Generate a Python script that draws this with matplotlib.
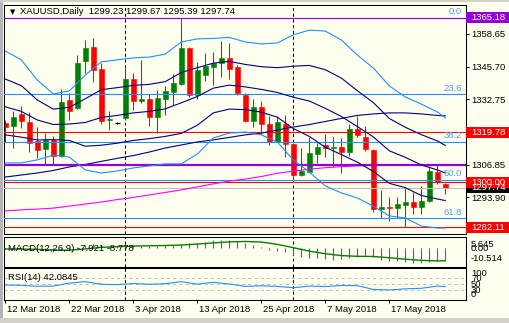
import matplotlib
matplotlib.use("Agg")
import matplotlib.pyplot as plt
import matplotlib.transforms as mtransforms
from matplotlib.patches import Rectangle
import numpy as np

plt.rcParams['font.family'] = ['Liberation Sans', 'DejaVu Sans']
FS = 6.8
BG = '#FFFFF0'

# ---------------- data ----------------
symbol_title = "XAUUSD,Daily  1299.23 1299.67 1295.39 1297.74"
date_labels = ["12 Mar 2018", "22 Mar 2018", "3 Apr 2018", "13 Apr 2018",
               "25 Apr 2018", "7 May 2018", "17 May 2018"]
date_idx = [0, 8, 16, 24, 32, 40, 48]
separator_idx = [15, 36]

opens = [1323.5, 1322.2, 1326.97, 1323.8, 1316.4, 1313.0, 1316.7, 1310.3, 1332.5, 1329.5,
         1348.1, 1353.6, 1344.8, 1324.45, 1323.3, 1325.5, 1340.8, 1332.25, 1332.9, 1325.9,
         1333.0, 1335.7, 1338.85, 1353.0, 1334.5, 1342.4, 1345.7, 1347.3, 1349.3, 1345.7,
         1334.5, 1324.3, 1329.9, 1322.9, 1316.0, 1323.0, 1315.1, 1302.9, 1304.1, 1311.1,
         1314.7, 1313.4, 1314.0, 1312.05, 1321.0, 1317.8, 1312.7, 1289.35, 1290.25, 1289.9,
         1290.9, 1292.1, 1290.25, 1292.5, 1304.1, 1299.23]
highs = [1324.6, 1328.3, 1330.1, 1327.9, 1321.7, 1319.3, 1318.25, 1336.7, 1335.15, 1350.3,
         1356.3, 1357.2, 1347.3, 1328.15, 1323.6, 1345.05, 1343.1, 1348.35, 1334.75, 1336.5,
         1338.05, 1342.8, 1365.18, 1353.6, 1347.7, 1351.0, 1351.65, 1355.9, 1355.2, 1346.4,
         1335.15, 1332.9, 1332.1, 1326.2, 1326.2, 1326.6, 1315.6, 1313.6, 1318.0, 1315.35,
         1319.05, 1318.0, 1317.3, 1323.0, 1326.2, 1322.2, 1313.0, 1296.9, 1293.95, 1293.95,
         1298.2, 1296.2, 1298.45, 1306.4, 1307.0, 1299.67]
lows = [1316.0, 1313.4, 1321.3, 1312.05, 1309.4, 1306.8, 1306.8, 1310.0, 1324.6, 1329.0,
        1343.3, 1339.8, 1323.0, 1320.6, 1323.0, 1324.6, 1328.55, 1331.2, 1322.35, 1319.6,
        1326.6, 1330.5, 1338.5, 1333.6, 1332.8, 1340.2, 1338.45, 1341.75, 1340.7, 1334.5,
        1323.9, 1321.7, 1319.05, 1314.7, 1315.7, 1309.8, 1300.8, 1302.6, 1303.9, 1307.7,
        1309.8, 1305.85, 1303.7, 1310.5, 1317.7, 1312.4, 1288.3, 1285.65, 1284.7, 1285.65,
        1282.11, 1287.4, 1287.4, 1292.0, 1299.3, 1295.39]
closes = [1321.9, 1325.65, 1324.3, 1315.6, 1312.7, 1316.7, 1310.5, 1331.7, 1328.3, 1347.0,
          1353.0, 1344.4, 1324.3, 1325.0, 1323.3, 1340.8, 1332.25, 1333.0, 1325.9, 1333.2,
          1336.1, 1339.4, 1353.0, 1334.5, 1344.4, 1346.0, 1347.3, 1349.15, 1344.8, 1335.4,
          1324.3, 1329.9, 1322.9, 1316.0, 1323.7, 1314.95, 1302.9, 1304.4, 1311.4, 1314.0,
          1313.6, 1314.0, 1312.05, 1321.0, 1318.65, 1313.0, 1289.35, 1290.25, 1289.6, 1291.3,
          1292.1, 1290.25, 1292.5, 1304.4, 1300.15, 1297.74]

# indicator lines, sampled every second bar plus the last bar
line_idx = list(range(0, 55, 2)) + [55]
bb_upper = [1351.9, 1348.4, 1340.4, 1334.9, 1336.1, 1342.4, 1347.6, 1348.4, 1349.2, 1349.5,
            1350.7, 1355.5, 1356.7, 1356.9, 1357.3, 1355.5, 1354.7, 1355.1, 1358.3, 1360.2,
            1359.8, 1356.3, 1350.3, 1345.2, 1338.1, 1333.7, 1330.9, 1327.8, 1325.4]
bb_lower = [1307.6, 1307.6, 1308.8, 1310.7, 1309.9, 1304.8, 1303.6, 1304.4, 1305.6, 1306.4,
            1307.2, 1307.2, 1311.1, 1317.5, 1319.4, 1319.8, 1318.7, 1315.9, 1308.8, 1304.0,
            1298.5, 1295.7, 1293.7, 1290.5, 1286.6, 1285.8, 1282.6, 1281.8, 1281.8]
bb_mid = [1329.8, 1328.0, 1324.6, 1322.8, 1323.0, 1323.6, 1325.6, 1326.4, 1327.4, 1328.0,
          1329.0, 1331.4, 1333.9, 1337.2, 1338.4, 1337.7, 1336.7, 1335.5, 1333.6, 1332.1,
          1329.2, 1326.0, 1322.0, 1317.9, 1312.4, 1309.8, 1306.8, 1304.8, 1303.6]
inner_upper = [1340.8, 1338.2, 1332.5, 1328.9, 1329.6, 1333.0, 1336.6, 1337.4, 1338.3, 1338.7,
               1339.8, 1343.4, 1345.3, 1347.1, 1347.8, 1346.6, 1345.7, 1345.3, 1345.9, 1346.2,
               1344.5, 1341.2, 1336.2, 1331.5, 1325.2, 1321.7, 1318.8, 1316.3, 1314.5]
inner_lower = [1318.7, 1317.8, 1316.7, 1316.8, 1316.5, 1314.2, 1314.6, 1315.4, 1316.5, 1317.2,
               1318.1, 1319.3, 1322.5, 1327.4, 1328.9, 1328.7, 1327.7, 1325.7, 1321.2, 1318.1,
               1313.8, 1310.9, 1307.9, 1304.2, 1299.5, 1297.8, 1294.7, 1293.3, 1292.7]
sma100 = [1302.0, 1302.8, 1303.6, 1304.6, 1306.0, 1307.0, 1308.2, 1309.4, 1310.5, 1311.9,
          1313.5, 1314.7, 1315.9, 1316.7, 1317.7, 1318.7, 1319.4, 1320.6, 1321.8, 1322.8,
          1324.0, 1325.2, 1326.4, 1327.0, 1327.4, 1327.4, 1327.0, 1326.4, 1326.2]
sma200 = [1288.6, 1289.0, 1289.3, 1289.7, 1290.5, 1291.3, 1292.1, 1293.1, 1293.9, 1294.9,
          1295.9, 1296.9, 1298.1, 1299.3, 1300.4, 1301.2, 1302.2, 1303.5, 1304.3, 1305.1,
          1305.7, 1306.1, 1306.4, 1306.6, 1306.8, 1306.9, 1306.9, 1306.9, 1306.9]

macd_main = [-0.9, -0.7, -0.6, -1.1, -1.5, -2.0, -2.4, -1.6, -1.1, 0.7,
             2.3, 2.8, 2.0, 1.5, 1.2, 2.0, 1.9, 1.7, 1.7, 1.6,
             1.9, 2.3, 2.6, 3.8, 3.8, 4.5, 5.3, 5.5, 5.645, 4.7,
             3.5, 2.2, 0.5, -1.3, -2.0, -2.9, -4.5, -5.9, -6.6, -7.1,
             -7.7, -8.0, -7.7, -7.1, -6.2, -5.4, -6.2, -8.1, -8.8, -9.0,
             -9.9, -10.514, -10.4, -9.5, -8.9, -7.921]
macd_signal = [-0.6, -0.7, -0.9, -1.3, -1.5, -0.6, 0.5, 1.0, 1.4, 1.6,
               1.8, 2.1, 2.8, 3.6, 4.3, 4.6, 4.2, 2.6, 0.3, -2.1,
               -3.9, -5.2, -5.7, -5.8, -6.7, -7.7, -8.5, -8.9, -8.778]
rsi = [47.7, 46.5, 43.5, 44, 54, 59, 50, 49, 52.5, 50,
       52, 58.7, 50.5, 56.7, 51, 43, 45, 43, 38.7, 44,
       42.5, 46, 45.5, 33, 31, 35, 36.7, 44, 42.0845]
rsi_levels = [70, 50, 30]

price_ticks = [1358.65, 1345.70, 1332.75, 1306.85, 1293.90]
red_levels = [1319.78, 1300.00, 1282.11]
purple_top = 1365.18
purple_mid = 1306.9
bid_price = 1297.74
fib_high, fib_low = 1365.18, 1236.6
fib_ratios = [0.0, 23.6, 38.2, 50.0, 61.8]

# ---------------- figure ----------------
W, H = 510, 323
fig = plt.figure(figsize=(W / 100, H / 100), dpi=100)
fig.patch.set_facecolor(BG)


def px_rect(x0, y0, x1, y1):
    return [x0 / W, 1 - y1 / H, (x1 - x0) / W, (y1 - y0) / H]


ax = fig.add_axes(px_rect(4.5, 4.5, 466.5, 234.3))
axm = fig.add_axes(px_rect(4.5, 236.7, 466.5, 266.7))
axr = fig.add_axes(px_rect(4.5, 268.3, 466.5, 300.0))

XLIM = (-0.1, 57.65)
for a in (ax, axm, axr):
    a.set_facecolor(BG)
    a.set_xlim(*XLIM)
    for s in a.spines.values():
        s.set_linewidth(0.75)
        s.set_color('black')
    a.tick_params(left=False, bottom=False, labelleft=False, labelbottom=False)

# window border strips
fig.add_artist(Rectangle((0, 0), 3 / W, 1, transform=fig.transFigure,
                         facecolor='#B4B4B4', edgecolor='none'))
fig.add_artist(Rectangle((0, 0), 1, 5 / H, transform=fig.transFigure,
                         facecolor='#D4D0C8', edgecolor='none'))
fig.add_artist(Rectangle((0, 1 - 1.5 / H), 1, 1.5 / H, transform=fig.transFigure,
                         facecolor='#D4D0C8', edgecolor='none'))

# ---------------- main price panel ----------------
YLIM = (1279.32, 1370.33)
ax.set_ylim(*YLIM)

o = np.array(opens); h = np.array(highs); l = np.array(lows); c = np.array(closes)
x = np.arange(len(o))
cols = np.where(c > o, '#008000', np.where(c < o, '#FF0000', 'black'))
ax.vlines(x, l, h, colors=cols, lw=0.75, zorder=2)
body = c != o
ax.bar(x[body], (c - o)[body], bottom=o[body], width=0.62, color=cols[body],
       edgecolor=cols[body], linewidth=0.4, zorder=2)
ax.hlines(c[~body], x[~body] - 0.31, x[~body] + 0.31, colors='black', lw=0.9, zorder=2)

# horizontal levels
for lv in red_levels:
    ax.axhline(lv, color='#FF0000', lw=0.8, zorder=3)
ax.axhline(bid_price, color='#C0C0C0', lw=0.8, zorder=3)
fib_color = '#1E90FF'
trans_ax = mtransforms.blended_transform_factory(ax.transAxes, ax.transData)
for r in fib_ratios:
    lv = fib_high - r / 100.0 * (fib_high - fib_low)
    ax.axhline(lv, color=fib_color, lw=0.8, zorder=3)
    ax.text(0.9905, lv + 0.6, f'{r:.1f}', transform=trans_ax, ha='right', va='bottom',
            color='#4A9EF0', fontsize=FS, zorder=6)
ax.axhline(purple_top, color='#9400D3', lw=0.8, zorder=3)

# indicator lines
ax.plot(line_idx, sma100, color='#000080', lw=0.8, zorder=4)
ax.plot(line_idx, sma200, color='#FF00FF', lw=0.8, zorder=4)
ax.axhline(purple_mid, color='#9400D3', lw=1.6, zorder=4.5)
for series in (inner_upper, bb_mid, inner_lower):
    ax.plot(line_idx, series, color='#000080', lw=0.8, zorder=5)
for series in (bb_upper, bb_lower):
    ax.plot(line_idx, series, color='#1E90FF', lw=0.8, zorder=5)

# price axis
ax.yaxis.tick_right()
ax.set_yticks(price_ticks)
ax.set_yticklabels([f'{v:.2f}' for v in price_ticks])
ax.tick_params(axis='y', right=True, labelright=True, direction='out', length=2.2,
               width=0.75, pad=1.2, labelsize=FS, colors='black')

# price boxes
trans_box = mtransforms.blended_transform_factory(fig.transFigure, ax.transData)
box_h = 11 * (YLIM[1] - YLIM[0]) / (234.3 - 4.5)
boxes = [(bid_price, 'black'), (purple_top, '#9400D3')] + [(lv, '#FF0000') for lv in red_levels]
for price, col in boxes:
    fig.add_artist(Rectangle((466.5 / W, price - box_h / 2), 1 - 466.5 / W, box_h,
                             transform=trans_box, facecolor=col, edgecolor='none'))
    fig.text(471 / W, price, f'{price:.2f}', transform=trans_box, color='white',
             fontsize=FS, ha='left', va='center')

# title
fig.text(9.5 / W, 1 - 12 / H, '\u25BC', fontsize=5, family='DejaVu Sans', va='center')
fig.text(20 / W, 1 - 12 / H, symbol_title, fontsize=FS, va='center', color='black')

# ---------------- MACD panel ----------------
axm.set_ylim(-12.9, 7.9)
axm.vlines(x, 0, macd_main, colors='#9932CC', lw=0.8, zorder=2)
axm.plot(line_idx, macd_signal, color='#008000', lw=1.0, zorder=3)
trans_m = mtransforms.blended_transform_factory(axm.transAxes, axm.transData)
macd_hi, macd_lo = max(macd_main), min(macd_main)
axm.text(1.0097, macd_hi, f'{macd_hi:.3f}', transform=trans_m, fontsize=FS, va='top', ha='left')
axm.text(1.0097, 0, '0.00', transform=trans_m, fontsize=FS, va='center', ha='left')
axm.text(1.0097, macd_lo, f'{macd_lo:.3f}', transform=trans_m, fontsize=FS, va='bottom', ha='left')
axm.text(0.008, 0.62, f'MACD(12,26,9) {macd_main[-1]:.3f} {macd_signal[-1]:.3f}',
         transform=axm.transAxes, fontsize=FS, va='center', ha='left', zorder=6)

# ---------------- RSI panel ----------------
axr.set_ylim(-2.3, 103.3)
for lv in rsi_levels:
    axr.axhline(lv, color='#C0C0C0', lw=0.75, ls=(0, (3, 3)), zorder=1)
axr.plot(line_idx, rsi, color='#1E90FF', lw=0.8, zorder=3)
trans_r = mtransforms.blended_transform_factory(axr.transAxes, axr.transData)
for lv, va in [(100, 'top'), (70, 'center'), (50, 'center'), (30, 'center'), (0, 'bottom')]:
    axr.text(1.0097, lv, f'{lv}', transform=trans_r, fontsize=FS, va=va, ha='left')
axr.text(0.008, 0.72, f'RSI(14) {rsi[-1]:.4f}', transform=axr.transAxes, fontsize=FS,
         va='center', ha='left', zorder=6)

# period separators
for a in (ax, axm, axr):
    for s in separator_idx:
        a.axvline(s, color='black', lw=0.75, ls=(0, (3, 2.5)), zorder=1.5)

# date axis
axr.set_xticks(date_idx)
axr.set_xticklabels(date_labels)
axr.tick_params(axis='x', bottom=True, labelbottom=True, direction='out', length=2.5,
                width=0.75, pad=1.2, labelsize=FS)
shift = mtransforms.ScaledTranslation(1.5 / 100, 0, fig.dpi_scale_trans)
for lbl in axr.get_xticklabels():
    lbl.set_ha('left')
    lbl.set_transform(lbl.get_transform() + shift)

fig.savefig('out.png', dpi=100, facecolor=BG)
